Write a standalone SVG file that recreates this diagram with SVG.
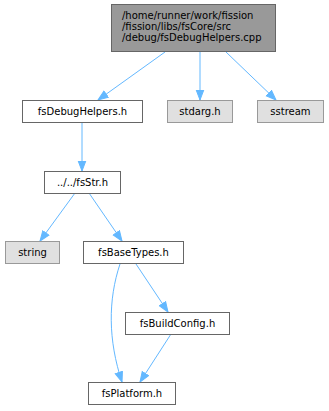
<svg xmlns="http://www.w3.org/2000/svg" width="329" height="411" viewBox="0 0 329 411">
<defs>
<marker id="ah" viewBox="0 0 11 10" refX="10.5" refY="5" markerWidth="11" markerHeight="10" markerUnits="userSpaceOnUse" orient="auto">
<path d="M0.5,1.2 L10.5,5 L0.5,8.8 Z" fill="#63b8ff" stroke="#63b8ff"/>
</marker>
<style>
text{font-family:"DejaVu Sans",sans-serif;font-size:10px;fill:#000;text-anchor:middle}
text.l{text-anchor:start}
.e{fill:none;stroke:#63b8ff;stroke-width:1;marker-end:url(#ah)}
.w{fill:#fff;stroke:#666}
.g{fill:#e0e0e0;stroke:#999}
.m{fill:#999;stroke:#666}
</style>
</defs>
<rect width="329" height="411" fill="#fff"/>
<g id="connectors">
<path class="e" d="M165,52 L98,100"/>
<path class="e" d="M200,52 L200,100"/>
<path class="e" d="M226,52 L276,100"/>
<path class="e" d="M82,122 L82,171"/>
<path class="e" d="M75,193 L40,241"/>
<path class="e" d="M89,193 L122,241"/>
<path class="e" d="M120,264 C108,300 108,340 122,382"/>
<path class="e" d="M136,264 L168,312"/>
<path class="e" d="M171,334 L140,382"/>
</g>
<g id="n_main">
<rect class="m" x="111.5" y="4.5" width="164" height="47"/>
<text class="l" x="122" y="19">/home/runner/work/fission</text>
<text class="l" x="122" y="30">/fission/libs/fsCore/src</text>
<text class="l" x="122" y="41">/debug/fsDebugHelpers.cpp</text>
</g>
<g id="n_fsDebugHelpers">
<rect class="w" x="22.5" y="100.5" width="120" height="22"/>
<text x="82.5" y="115">fsDebugHelpers.h</text>
</g>
<g id="n_stdarg">
<rect class="g" x="167.5" y="100.5" width="65" height="22"/>
<text x="200" y="115">stdarg.h</text>
</g>
<g id="n_sstream">
<rect class="g" x="257.5" y="100.5" width="66" height="22"/>
<text x="290.5" y="115">sstream</text>
</g>
<g id="n_fsStr">
<rect class="w" x="44.5" y="171.5" width="76" height="22"/>
<text x="82.5" y="186">../../fsStr.h</text>
</g>
<g id="n_string">
<rect class="g" x="5.5" y="241.5" width="54" height="22"/>
<text x="32.5" y="256">string</text>
</g>
<g id="n_fsBaseTypes">
<rect class="w" x="83.5" y="241.5" width="100" height="22"/>
<text x="133.5" y="256">fsBaseTypes.h</text>
</g>
<g id="n_fsBuildConfig">
<rect class="w" x="125.5" y="312.5" width="104" height="22"/>
<text x="177.5" y="327">fsBuildConfig.h</text>
</g>
<g id="n_fsPlatform">
<rect class="w" x="88.5" y="382.5" width="87" height="22"/>
<text x="132" y="397">fsPlatform.h</text>
</g>
</svg>
